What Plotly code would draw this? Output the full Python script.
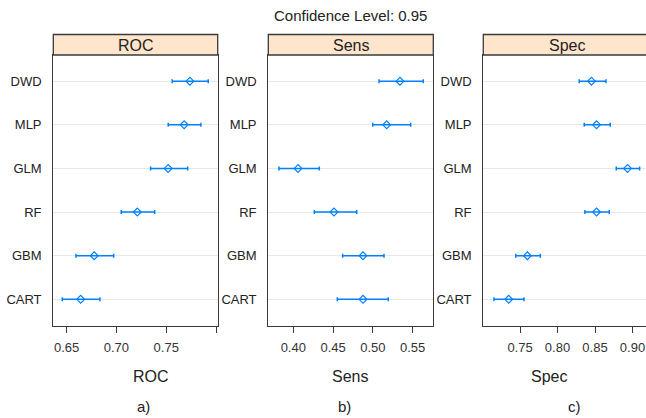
import plotly.graph_objects as go

models = ["CART", "GBM", "RF", "GLM", "MLP", "DWD"]  # bottom to top

roc_mid = [0.6641, 0.6777, 0.7209, 0.7520, 0.7680, 0.7738]
roc_lo = [0.6456, 0.6593, 0.7048, 0.7343, 0.7520, 0.7560]
roc_hi = [0.6834, 0.6972, 0.7384, 0.7715, 0.7848, 0.7922]

sens_mid = [0.4876, 0.4876, 0.4511, 0.4060, 0.5173, 0.5340]
sens_lo = [0.4553, 0.4620, 0.4264, 0.3820, 0.4998, 0.5077]
sens_hi = [0.5193, 0.5140, 0.4797, 0.4327, 0.5475, 0.5633]

spec_mid = [0.7349, 0.7598, 0.8520, 0.8934, 0.8520, 0.8453]
spec_lo = [0.7152, 0.7443, 0.8365, 0.8783, 0.8356, 0.8289]
spec_hi = [0.7553, 0.7771, 0.8690, 0.9095, 0.8703, 0.8646]

metrics = ["ROC", "Sens", "Spec"]
sub_labels = ["a)", "b)", "c)"]
x_ticks = [[0.65, 0.70, 0.75, 0.80], [0.40, 0.45, 0.50, 0.55], [0.75, 0.80, 0.85, 0.90]]
x_ticktext = [["0.65", "0.70", "0.75", ""], ["0.40", "0.45", "0.50", "0.55"], ["0.75", "0.80", "0.85", "0.90"]]
x_ranges = [[0.6366, 0.8017], [0.3686, 0.5759], [0.7010, 0.9180]]
title_text = "Confidence Level: 0.95"

W, H = 646, 418
FONT = "Liberation Sans, Arial, sans-serif"
BLUE = "#0080ff"
BORDER = "#3a3a3a"

# pixel geometry (reference coordinates)
px_domains = [(53.3, 217.7), (268.3, 433.3), (483.3, 646.0)]
box_top, box_bot = 55.0, 325.5
strip_top = 34.5
strip_title_px = [135.5, 350.8, 566.5]
title_x_px = [150.7, 350.0, 549.0]
sub_x_px = [143.0, 345.0, 574.0]

def px_x(v):
    return v / W

def px_y(v):
    return 1 - v / H

fig = go.Figure()

data = [(roc_mid, roc_lo, roc_hi), (sens_mid, sens_lo, sens_hi), (spec_mid, spec_lo, spec_hi)]
shapes = []
annotations = []
layout = {}
for i, (mid, lo, hi) in enumerate(data):
    xa = "x" if i == 0 else f"x{i+1}"
    ya = "y" if i == 0 else f"y{i+1}"
    fig.add_trace(go.Scatter(
        x=mid, y=models, xaxis=xa, yaxis=ya, mode="markers",
        marker=dict(symbol="diamond-open", size=6, color=BLUE, line=dict(width=1.2, color=BLUE)),
        error_x=dict(type="data", symmetric=False,
                     array=[h - m for h, m in zip(hi, mid)],
                     arrayminus=[m - l for m, l in zip(mid, lo)],
                     color=BLUE, thickness=1.5, width=2),
        showlegend=False, hoverinfo="x+y",
    ))
    d0, d1 = px_domains[i]
    key = "xaxis" if i == 0 else f"xaxis{i+1}"
    ykey = "yaxis" if i == 0 else f"yaxis{i+1}"
    layout[key] = dict(
        domain=[px_x(d0), min(1.0, px_x(d1))], range=x_ranges[i], anchor=ya,
        tickvals=x_ticks[i], ticktext=x_ticktext[i], ticks="outside", ticklen=6,
        tickcolor=BORDER, tickwidth=1.3, showgrid=False, zeroline=False,
        showline=True, linecolor=BORDER, linewidth=1.3, mirror=True,
        tickfont=dict(family=FONT, size=13, color="#333333"), ticklabelstandoff=4,
        ticklabeloverflow="allow",
    )
    layout[ykey] = dict(
        domain=[px_y(box_bot), px_y(box_top)], anchor=xa, type="category",
        categoryorder="array", categoryarray=models, range=[-0.6, 5.6],
        showgrid=True, gridcolor="#e8e8e8", gridwidth=1, zeroline=False,
        showline=True, linecolor=BORDER, linewidth=1.3, mirror=(i < 2), ticks="",
        tickfont=dict(family=FONT, size=13, color="#222222"), ticklabelstandoff=8,
    )
    # strip
    shapes.append(dict(type="rect", xref="paper", yref="paper",
                       x0=px_x(d0), x1=px_x(d1) if i < 2 else 1.01,
                       y0=px_y(box_top), y1=px_y(strip_top),
                       fillcolor="#ffe5cc", line=dict(color=BORDER, width=1.3), layer="above"))
    annotations.append(dict(text=metrics[i], xref="paper", yref="paper",
                            x=px_x(strip_title_px[i]),
                            y=px_y((strip_top + box_top) / 2 + 0.5), showarrow=False,
                            font=dict(family=FONT, size=16, color="#222222"),
                            xanchor="center", yanchor="middle"))
    annotations.append(dict(text=metrics[i], xref="paper", yref="paper",
                            x=px_x(title_x_px[i]), y=px_y(376.5), showarrow=False,
                            font=dict(family=FONT, size=16, color="#222222"),
                            xanchor="center", yanchor="middle"))
    annotations.append(dict(text=sub_labels[i], xref="paper", yref="paper",
                            x=px_x(sub_x_px[i]), y=px_y(406.5), showarrow=False,
                            font=dict(family=FONT, size=15, color="#222222"),
                            xanchor="center", yanchor="middle"))

annotations.append(dict(text=title_text, xref="paper", yref="paper",
                        x=px_x(350), y=px_y(15), showarrow=False,
                        font=dict(family=FONT, size=15, color="#222222"),
                        xanchor="center", yanchor="middle"))

fig.update_layout(
    width=W, height=H, margin=dict(l=0, r=0, t=0, b=0),
    paper_bgcolor="white", plot_bgcolor="white",
    shapes=shapes, annotations=annotations, **layout,
)

fig.write_html(
    "out.html",
    config={"displayModeBar": False},
    post_script="document.body.style.margin='0';document.body.style.overflow='hidden';",
)
